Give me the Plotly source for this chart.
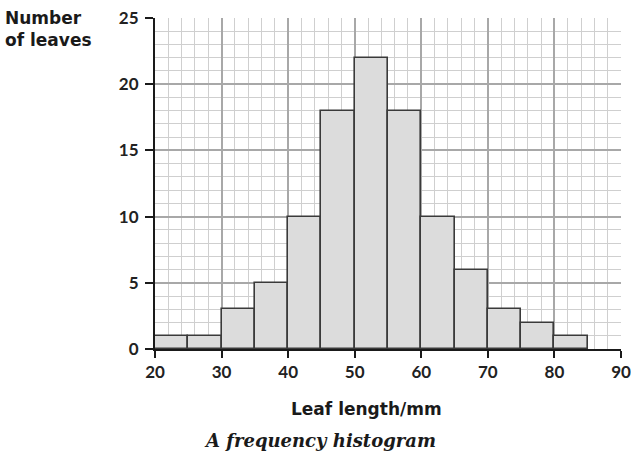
import plotly.graph_objects as go

bin_starts = [20, 25, 30, 35, 40, 45, 50, 55, 60, 65, 70, 75, 80]
bin_width = 5
counts = [1, 1, 3, 5, 10, 18, 22, 18, 10, 6, 3, 2, 1]
x_ticks = [20, 30, 40, 50, 60, 70, 80, 90]
y_ticks = [0, 5, 10, 15, 20, 25]

mids = [s + bin_width / 2 for s in bin_starts]

fig = go.Figure()
fig.add_trace(go.Bar(
    x=mids, y=counts, width=[bin_width] * len(mids),
    marker=dict(color="#dcdcdc", line=dict(color="#3a3a3a", width=1.6)),
    hoverinfo="skip",
))

sans = "Lato, 'Open Sans', sans-serif"
bold_sans = "'DejaVu Sans', sans-serif"
fig.update_layout(
    width=631, height=452,
    margin=dict(l=155, r=10, t=18, b=103),
    paper_bgcolor="white", plot_bgcolor="white",
    showlegend=False,
    bargap=0,
    font=dict(family=sans, color="#1a1a1a"),
)
fig.update_xaxes(
    range=[20, 90], tickvals=x_ticks, automargin=False,
    showgrid=True, gridcolor="#a8a8a8", gridwidth=2,
    minor=dict(dtick=2, tick0=20, showgrid=True, gridcolor="#cfcfcf", gridwidth=1, ticks=""),
    showline=True, linecolor="#1a1a1a", linewidth=2,
    ticks="outside", ticklen=7, tickwidth=2, tickcolor="#1a1a1a",
    tickfont=dict(size=17, family=sans, color="#222222", weight="bold"),
    zeroline=False,
)
fig.update_yaxes(
    range=[0, 25], tickvals=y_ticks, automargin=False,
    showgrid=True, gridcolor="#a8a8a8", gridwidth=2,
    minor=dict(dtick=1, tick0=0, showgrid=True, gridcolor="#cfcfcf", gridwidth=1, ticks=""),
    showline=True, linecolor="#1a1a1a", linewidth=2,
    ticks="outside", ticklen=8, tickwidth=2, tickcolor="#1a1a1a",
    ticklabelstandoff=3,
    tickfont=dict(size=17, family=sans, color="#222222", weight="bold"),
    zeroline=False,
)

fig.add_annotation(
    text="Number<br>of leaves", xref="paper", yref="paper",
    x=-0.326, y=1.035, xanchor="left", yanchor="top", showarrow=False, align="left",
    font=dict(size=17, family=bold_sans, color="#1a1a1a", weight="bold"),
)
fig.add_annotation(
    text="Leaf length/mm", xref="paper", yref="paper",
    x=0.453, y=-0.181, xanchor="center", yanchor="middle", showarrow=False,
    font=dict(size=17, family=bold_sans, color="#1a1a1a", weight="bold"),
)
fig.add_annotation(
    text="<i>A frequency histogram</i>", xref="paper", yref="paper",
    x=0.354, y=-0.275, xanchor="center", yanchor="middle", showarrow=False,
    font=dict(size=18, family="'DejaVu Serif', 'Liberation Serif', serif", color="#1a1a1a", weight="bold"),
)

fig.write_html("out.html", config={"displayModeBar": False},
               post_script="document.body.style.margin='0px';")
